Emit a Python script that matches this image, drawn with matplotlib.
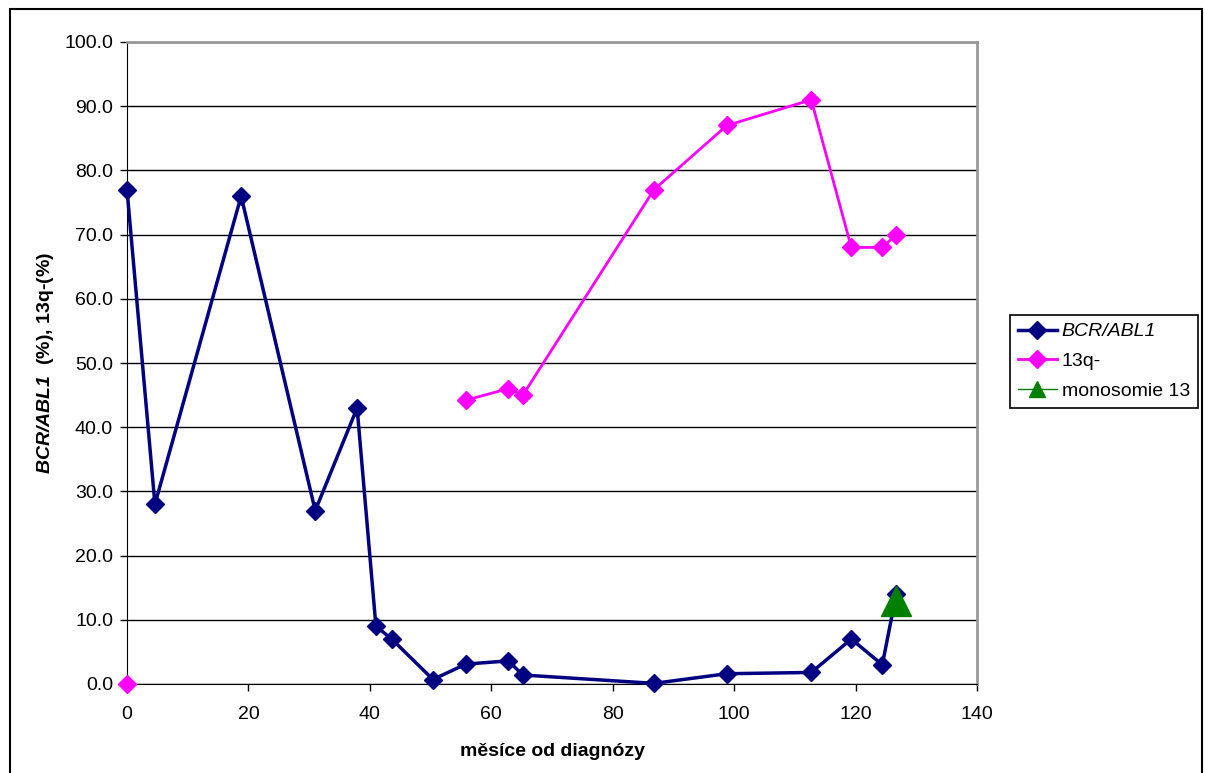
import numpy as np
import matplotlib.pyplot as plt
from matplotlib.patches import Rectangle

plt.rcParams['font.family'] = ['Liberation Sans', 'DejaVu Sans']
plt.rcParams['mathtext.fontset'] = 'custom'
plt.rcParams['mathtext.bfit'] = 'Liberation Sans:italic:bold'
plt.rcParams['mathtext.it'] = 'Liberation Sans:italic'
plt.rcParams['mathtext.rm'] = 'Liberation Sans'

# months since diagnosis (shared x for all series)
mesice = [0, 4.6, 18.8, 31, 37.9, 41, 43.6, 50.4, 55.8, 62.8, 65.2,
          86.8, 98.8, 112.7, 119.3, 124.4, 126.7]
bcr_abl1 = [77, 28, 76, 27, 43, 9, 7, 0.7, 3.1, 3.6, 1.4,
            0.1, 1.6, 1.8, 7, 3, 14]
q13 = [0, None, None, None, None, None, None, None, 44.2, 46, 45,
       77, 87, 91, 68, 68, 70]
mono_x = [126.7]
mono13 = [12.9]

q13 = np.array([np.nan if v is None else v for v in q13])

fig = plt.figure(figsize=(12.05, 7.73), dpi=100)
ax = fig.add_axes([127/1205, 1-684/773, (977-127)/1205, (684-42)/773])

# chart area border
fig.patches.append(Rectangle((10/1205, -0.05), (1202-10)/1205, 1.05-9/773,
                             transform=fig.transFigure, fill=False,
                             edgecolor='black', lw=1.5))

ax.set_xlim(0, 140)
ax.set_ylim(0, 100)
ax.set_xticks(np.arange(0, 141, 20))
ax.set_yticks(np.arange(0, 101, 10))
ax.set_yticklabels(['%.1f' % v for v in np.arange(0, 101, 10)])
ax.tick_params(direction='out', length=5, labelsize=14, width=1)
ax.tick_params(axis='x', pad=11)
ax.tick_params(axis='y', pad=5)
ax.grid(axis='y', color='black', lw=1)
ax.set_axisbelow(True)
for s in ['top', 'right']:
    ax.spines[s].set_color('#999999')
    ax.spines[s].set_linewidth(2)

ax.plot(mesice, bcr_abl1, color='#000080', lw=2.5, marker='D', ms=9,
        clip_on=False, zorder=3, label='BCR/ABL1')
ax.plot(mesice, q13, color='#FF00FF', lw=2, marker='D', ms=9,
        clip_on=False, zorder=4, label='13q-')
ax.plot(mono_x, mono13, color='#008000', lw=1, marker='^', ms=22,
        clip_on=False, zorder=5, label='monosomie 13')

ax.set_xlabel('měsíce od diagnózy', fontsize=14, fontweight='bold', labelpad=14)
ax.set_ylabel(r'$\mathbfit{BCR/ABL1}$  (%), 13q-(%)', fontsize=14,
              fontweight='bold', labelpad=6)

handles, labels = ax.get_legend_handles_labels()
handles[2] = plt.Line2D([], [], color='#008000', lw=1, marker='^', ms=12)
leg = fig.legend(handles, labels, loc='upper left',
                 bbox_to_anchor=(1010/1205, 1-315/773), fontsize=14,
                 frameon=True, fancybox=False, edgecolor='black',
                 framealpha=1, handlelength=2.0, borderpad=0.4,
                 labelspacing=0.62, handletextpad=0.25, borderaxespad=0)
leg.get_frame().set_linewidth(1.2)
leg.get_texts()[0].set_style('italic')

fig.savefig('out.png', dpi=100)
